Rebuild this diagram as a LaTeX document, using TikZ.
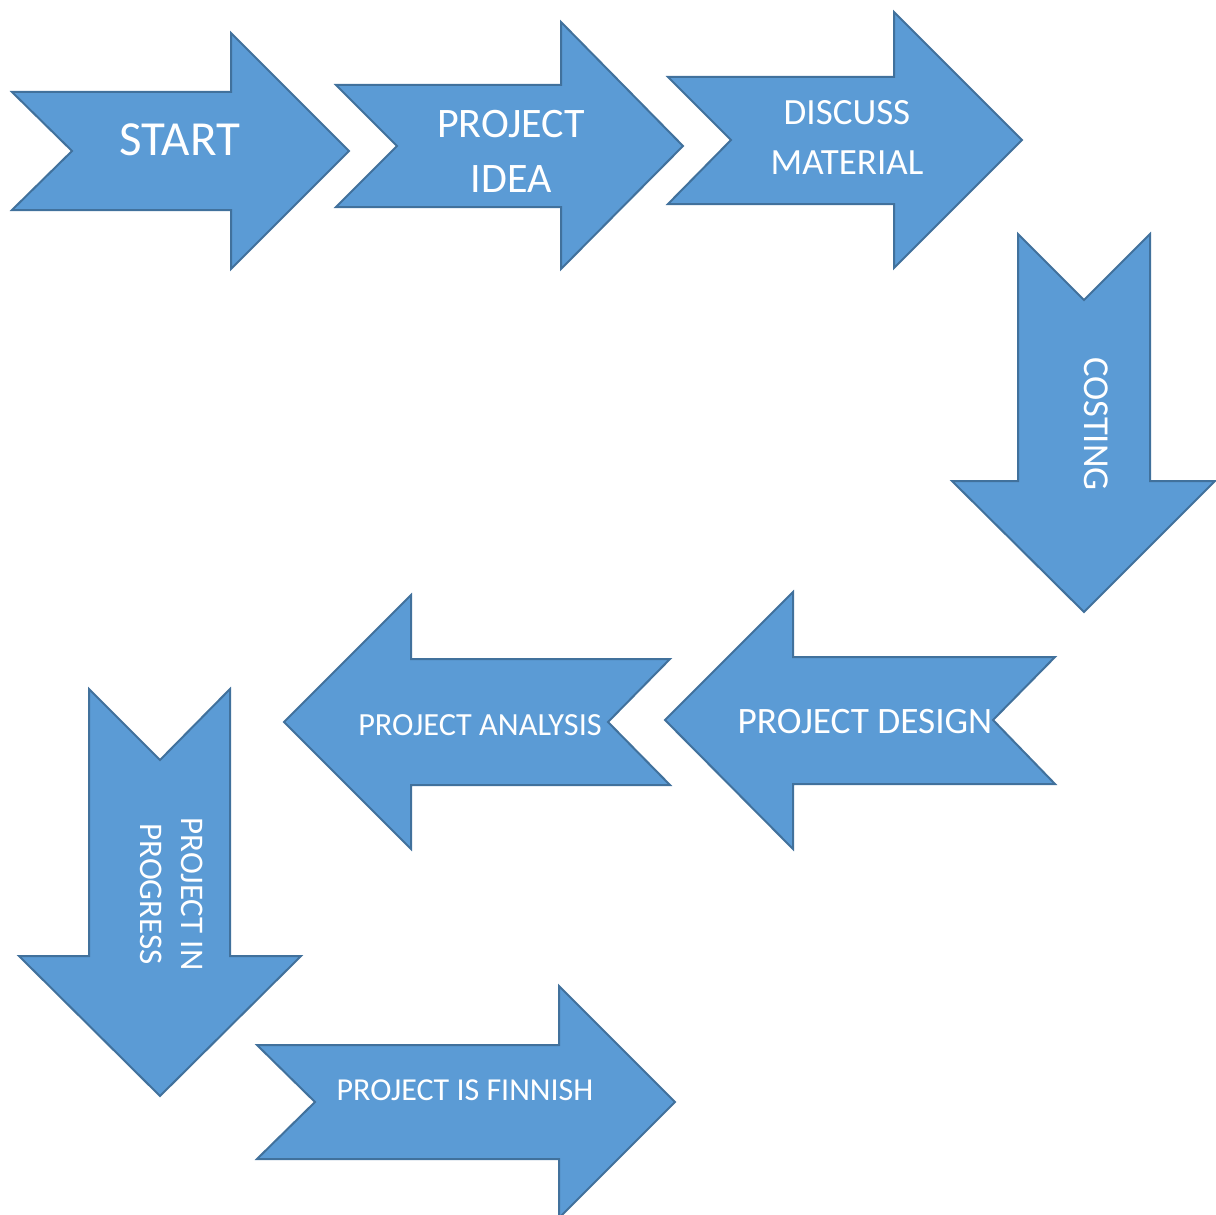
\documentclass[tikz,border=0pt]{standalone}
\usepackage{fontspec}
\setmainfont{Carlito}
\usepackage{tikz}

\definecolor{arrfill}{HTML}{5B9BD5}
\definecolor{arrline}{HTML}{41719C}

\begin{document}
\begin{tikzpicture}[
		x=1pt, y=-1pt,
		blk/.style={fill=arrfill, draw=arrline, line width=2pt, line join=miter},
		lbl/.style={text=white, inner sep=0pt, align=center}
	]
  \useasboundingbox (0,0) rectangle (1216,1215);
  % arrows
  \filldraw[blk] (12,92) -- (231,92) -- (231,33) -- (349,151) -- (231,269) -- (231,210) -- (12,210) -- (72,151) -- cycle;
  \filldraw[blk] (336,85) -- (561,85) -- (561,22) -- (683,146) -- (561,269) -- (561,207) -- (336,207) -- (397,146) -- cycle;
  \filldraw[blk] (668,77) -- (894,77) -- (894,12) -- (1022,140) -- (894,268) -- (894,204) -- (668,204) -- (731,140) -- cycle;
  \filldraw[blk] (1018,234) -- (1084,300) -- (1150,234) -- (1150,481) -- (1215,481) -- (1084,612) -- (952,481) -- (1018,481) -- cycle;
  \filldraw[blk] (665,720) -- (793,592) -- (793,657) -- (1055,657) -- (993,720) -- (1055,784) -- (793,784) -- (793,849) -- cycle;
  \filldraw[blk] (284,722) -- (411,595) -- (411,659) -- (670,659) -- (608,722) -- (670,785) -- (411,785) -- (411,849) -- cycle;
  \filldraw[blk] (89,689) -- (160,760) -- (230,689) -- (230,956) -- (301,956) -- (160,1096) -- (19,956) -- (89,956) -- cycle;
  \filldraw[blk] (257,1045) -- (559,1045) -- (559,986) -- (675,1102) -- (559,1218) -- (559,1159) -- (257,1159) -- (315,1102) -- cycle;
  % labels
  \node (start) [lbl, font=\fontsize{49}{58}\selectfont] at (180,140) {START};
  \node (idea) [lbl, font=\fontsize{42}{55}\selectfont] at (511,151) {PROJECT\\IDEA};
  \node (discuss) [lbl, font=\fontsize{37}{50}\selectfont] at (847,137) {DISCUSS\\MATERIAL};
  \node (costing) [lbl, rotate=-90, font=\fontsize{36.5}{44}\selectfont] at (1096,424) {COSTING};
  \node (design) [lbl, font=\fontsize{37.3}{45}\selectfont] at (865,722) {PROJECT DESIGN};
  \node (analysis) [lbl, font=\fontsize{32.3}{39}\selectfont] at (480,725) {PROJECT ANALYSIS};
  \node (progress) [lbl, rotate=-90, font=\fontsize{33}{41}\selectfont] at (172,894) {PROJECT IN\\PROGRESS};
  \node (finish) [lbl, font=\fontsize{32}{38}\selectfont] at (465,1090) {PROJECT IS FINNISH};
\end{tikzpicture}
\end{document}
